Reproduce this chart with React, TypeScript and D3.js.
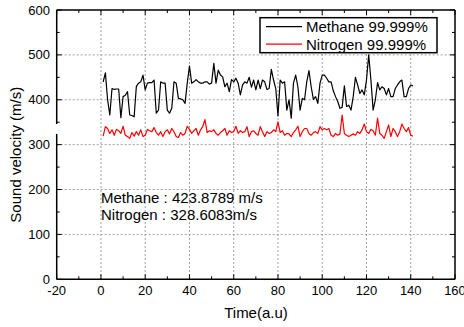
import React from "react";
import * as d3 from "d3";

const methane: number[] = [
  440, 460, 400, 366, 425, 423, 424, 424, 360, 407,
  410, 418, 366, 365, 362, 430, 437, 440, 455, 422,
  437, 438, 438, 444, 370, 377, 440, 437, 437, 377,
  370, 381, 440, 437, 403, 402, 400, 392, 437, 475,
  437, 440, 445, 440, 437, 437, 440, 440, 435, 437,
  481, 437, 466, 455, 451, 429, 437, 418, 445, 440,
  448, 437, 411, 433, 440, 437, 450, 428, 444, 422,
  444, 425, 444, 440, 423, 425, 468, 444, 425, 364,
  444, 437, 440, 377, 400, 359, 437, 455, 429, 377,
  403, 400, 440, 465, 429, 401, 407, 392, 437, 455,
  455, 448, 440, 440, 420, 407, 396, 381, 383, 431,
  385, 388, 377, 407, 450, 433, 414, 422, 411, 444,
  500, 444, 377, 400, 438, 422, 429, 425, 411, 425,
  407, 407, 425, 433, 440, 444, 407, 407, 425, 433,
  431,
];

const nitrogen: number[] = [
  319, 340, 336, 325, 333, 321, 334, 331, 325, 341,
  321, 318, 314, 327, 319, 329, 321, 333, 318, 321,
  334, 331, 329, 338, 327, 321, 329, 318, 329, 333,
  324, 336, 329, 318, 316, 327, 321, 325, 341, 334,
  325, 331, 336, 321, 333, 340, 356, 327, 331, 329,
  333, 325, 321, 327, 331, 336, 321, 331, 327, 329,
  341, 325, 331, 327, 329, 340, 318, 329, 331, 325,
  321, 340, 329, 318, 329, 325, 327, 333, 329, 351,
  327, 331, 321, 325, 324, 318, 327, 333, 341, 318,
  329, 336, 336, 325, 321, 327, 329, 325, 340, 333,
  336, 333, 336, 321, 318, 325, 321, 324, 366, 325,
  321, 318, 321, 324, 321, 329, 325, 333, 346, 329,
  325, 334, 331, 321, 359, 325, 321, 314, 329, 344,
  318, 336, 329, 318, 329, 346, 336, 329, 338, 321,
  319,
];

const xMajorTicks = [-20, 0, 20, 40, 60, 80, 100, 120, 140, 160];
const yMajorTicks = [0, 100, 200, 300, 400, 500, 600];
const xMinorTicks = [-10, 10, 30, 50, 70, 90, 110, 130, 150];
const yMinorTicks = [50, 150, 250, 350, 450, 550];
const seriesNames = ["Methane 99.999%", "Nitrogen 99.999%"];
const seriesColors = ["#000000", "#ff0000"];
const annotations = ["Methane : 423.8789 m/s", "Nitrogen : 328.6083m/s"];

const W = 464;
const H = 327;
const L = 56.7;
const R = 455;
const T = 10;
const B = 279.3;
const FONT = "'Liberation Sans', Arial, sans-serif";

export default function App() {
  const x = d3.scaleLinear().domain([-20, 160]).range([L, R]);
  const y = d3.scaleLinear().domain([0, 600]).range([B, T]);
  const line = d3
    .line<number>()
    .x((_, i) => x(i + 1))
    .y((d) => y(d));

  const series = [methane, nitrogen];
  const gridX = xMajorTicks.filter((t) => t > -20 && t < 160);
  const gridY = yMajorTicks.filter((t) => t > 0 && t < 600);

  return (
    <svg
      width={W}
      height={H}
      style={{ position: "absolute", left: 0, top: 0, background: "#fff" }}
      fontFamily={FONT}
    >
      <rect x={0} y={0} width={W} height={H} fill="#fff" />
      {/* grid */}
      {gridX.map((t) => (
        <line
          key={"gx" + t}
          x1={x(t)}
          x2={x(t)}
          y1={T}
          y2={B}
          stroke="#a0a0a0"
          strokeWidth={1}
          strokeDasharray="2,2"
        />
      ))}
      {gridY.map((t) => (
        <line
          key={"gy" + t}
          x1={L}
          x2={R}
          y1={y(t)}
          y2={y(t)}
          stroke="#a0a0a0"
          strokeWidth={1}
          strokeDasharray="2,2"
        />
      ))}
      {/* series */}
      {series.map((s, i) => (
        <path
          key={"s" + i}
          d={line(s) || ""}
          fill="none"
          stroke={seriesColors[i]}
          strokeWidth={1.2}
          strokeLinejoin="round"
        />
      ))}
      {/* ticks */}
      {xMajorTicks.map((t) => (
        <g key={"xt" + t}>
          <line x1={x(t)} x2={x(t)} y1={B} y2={B - 5} stroke="#000" strokeWidth={1} />
          <line x1={x(t)} x2={x(t)} y1={T} y2={T + 5} stroke="#000" strokeWidth={1} />
        </g>
      ))}
      {xMinorTicks.map((t) => (
        <g key={"xm" + t}>
          <line x1={x(t)} x2={x(t)} y1={B} y2={B - 3} stroke="#000" strokeWidth={1} />
          <line x1={x(t)} x2={x(t)} y1={T} y2={T + 3} stroke="#000" strokeWidth={1} />
        </g>
      ))}
      {yMajorTicks.map((t) => (
        <g key={"yt" + t}>
          <line x1={L} x2={L + 5} y1={y(t)} y2={y(t)} stroke="#000" strokeWidth={1} />
          <line x1={R} x2={R - 5} y1={y(t)} y2={y(t)} stroke="#000" strokeWidth={1} />
        </g>
      ))}
      {yMinorTicks.map((t) => (
        <g key={"ym" + t}>
          <line x1={L} x2={L + 3} y1={y(t)} y2={y(t)} stroke="#000" strokeWidth={1} />
          <line x1={R} x2={R - 3} y1={y(t)} y2={y(t)} stroke="#000" strokeWidth={1} />
        </g>
      ))}
      {/* frame */}
      <line x1={L} x2={R} y1={B} y2={B} stroke="#000" strokeWidth={1.5} />
      <line x1={L} x2={R} y1={T} y2={T} stroke="#000" strokeWidth={1.5} />
      <line x1={R} x2={R} y1={T} y2={B} stroke="#000" strokeWidth={1.5} />
      <line x1={L} x2={L} y1={T} y2={y(346)} stroke="#000" strokeWidth={1.5} />
      <line x1={L} x2={L} y1={y(324)} y2={B} stroke="#000" strokeWidth={1.5} />
      {/* tick labels */}
      {xMajorTicks.map((t) => (
        <text key={"xl" + t} x={x(t)} y={295} textAnchor="middle" fontSize={13} fill="#000">
          {t}
        </text>
      ))}
      {yMajorTicks.map((t) => (
        <text
          key={"yl" + t}
          x={50}
          y={y(t) + 4.5}
          textAnchor="end"
          fontSize={13}
          fill="#000"
        >
          {t}
        </text>
      ))}
      {/* axis titles */}
      <text x={256} y={318} textAnchor="middle" fontSize={15} fill="#000">
        Time(a.u)
      </text>
      <text
        transform={`translate(20.7,${154.7}) rotate(-90)`}
        textAnchor="middle"
        fontSize={15}
        fill="#000"
      >
        Sound velocity (m/s)
      </text>
      {/* annotations */}
      {annotations.map((a, i) => (
        <text key={"an" + i} x={101} y={203.3 + i * 16.9} fontSize={15} fill="#000">
          {a}
        </text>
      ))}
      {/* legend */}
      <rect x={260} y={17.7} width={177} height={35} fill="#fff" stroke="#000" strokeWidth={1.5} />
      {seriesNames.map((n, i) => (
        <g key={"lg" + i}>
          <line
            x1={266}
            x2={302}
            y1={26.7 + i * 17.4}
            y2={26.7 + i * 17.4}
            stroke={seriesColors[i]}
            strokeWidth={1.2}
          />
          <text x={306} y={32.3 + i * 17.6} fontSize={15} fill="#000">
            {n}
          </text>
        </g>
      ))}
    </svg>
  );
}
